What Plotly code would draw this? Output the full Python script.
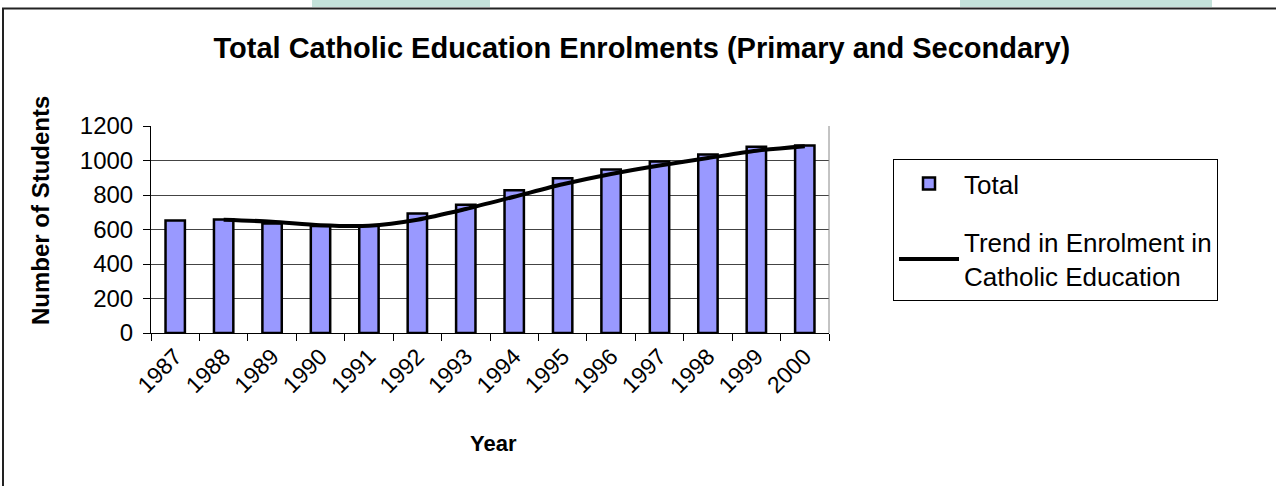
import plotly.graph_objects as go

years = ["1987", "1988", "1989", "1990", "1991", "1992", "1993",
         "1994", "1995", "1996", "1997", "1998", "1999", "2000"]
totals = [652, 658, 635, 620, 622, 693, 743, 828, 897, 948, 994, 1035, 1079, 1087]
trend_years = years[1:]
trend_values = [657, 645, 625, 622, 657, 719, 790, 862, 922, 971, 1014, 1057, 1083]
y_ticks = [0, 200, 400, 600, 800, 1000, 1200]

FONT = "Liberation Sans, Arial, sans-serif"

fig = go.Figure()
fig.add_trace(go.Bar(
    x=years, y=totals, name="Total",
    marker=dict(color="#9999FF", line=dict(color="black", width=2.5)),
    legendgroup="a",
))
fig.add_trace(go.Scatter(
    x=trend_years, y=trend_values, mode="lines",
    name="Trend in Enrolment in<br>Catholic Education",
    line=dict(color="black", width=4, shape="spline", smoothing=0.8),
    legendgroup="b",
))

W, H = 1276, 486
L, R, T, B = 151, 829, 126, 333

def px_x(p):
    return (p - L) / (R - L)

def px_y(p):
    return (B - p) / (B - T)

shapes = [
    # outer chart border
    dict(type="rect", xref="paper", yref="paper",
         x0=px_x(3), x1=px_x(1300), y0=px_y(520), y1=px_y(8.5),
         line=dict(color="#222", width=2), fillcolor="rgba(0,0,0,0)", layer="below"),
    # decorative teal strip above the chart
    dict(type="rect", xref="paper", yref="paper",
         x0=px_x(312), x1=px_x(490), y0=px_y(7), y1=px_y(-5),
         line=dict(width=0), fillcolor="#c4e2da", layer="below"),
    dict(type="rect", xref="paper", yref="paper",
         x0=px_x(960), x1=px_x(1212), y0=px_y(7), y1=px_y(-5),
         line=dict(width=0), fillcolor="#c4e2da", layer="below"),
    # plot area right border
    dict(type="line", xref="paper", yref="paper", x0=1, x1=1, y0=0, y1=1,
         line=dict(color="#888", width=1)),
]

annotations = [
    dict(text="<b>Number of Students</b>", xref="paper", yref="paper",
         x=px_x(40), y=px_y(211), textangle=-90, showarrow=False,
         font=dict(family=FONT, size=24, color="black"),
         xanchor="center", yanchor="middle"),
    dict(text="<b>Year</b>", xref="paper", yref="paper",
         x=px_x(493), y=px_y(443), showarrow=False,
         font=dict(family=FONT, size=22, color="black"),
         xanchor="center", yanchor="middle"),
]

fig.update_layout(
    width=W, height=H,
    margin=dict(l=L, r=W - R, t=T, b=H - B, pad=0),
    paper_bgcolor="white", plot_bgcolor="white",
    font=dict(family=FONT, color="black"),
    title=dict(text="<b>Total Catholic Education Enrolments (Primary and Secondary)</b>",
               x=0.503, xanchor="center", y=1 - 48 / H, yanchor="middle",
               font=dict(family=FONT, size=29, color="black")),
    bargap=0.6,
    showlegend=True,
    legend=dict(x=px_x(893), y=px_y(159), xanchor="left", yanchor="top",
                bordercolor="black", borderwidth=1, bgcolor="white",
                font=dict(family=FONT, size=26, color="black"),
                tracegroupgap=22, itemwidth=60, traceorder="grouped"),
    shapes=shapes,
    annotations=annotations,
)

fig.update_xaxes(
    type="category", tickangle=-45, tickson="boundaries",
    ticks="outside", ticklen=7, tickcolor="black", tickwidth=1,
    showline=True, linecolor="black", linewidth=1,
    tickfont=dict(family=FONT, size=23, color="black"),
    showgrid=False, fixedrange=True,
)
fig.update_yaxes(
    range=[0, 1200], tickvals=y_ticks,
    ticks="outside", ticklen=7, tickcolor="black", tickwidth=1,
    showline=True, linecolor="black", linewidth=1,
    showgrid=True, gridcolor="#444", gridwidth=1,
    tickfont=dict(family=FONT, size=24, color="black"),
    ticklabelstandoff=5, zeroline=False,
)

fig.write_html("out.html")
